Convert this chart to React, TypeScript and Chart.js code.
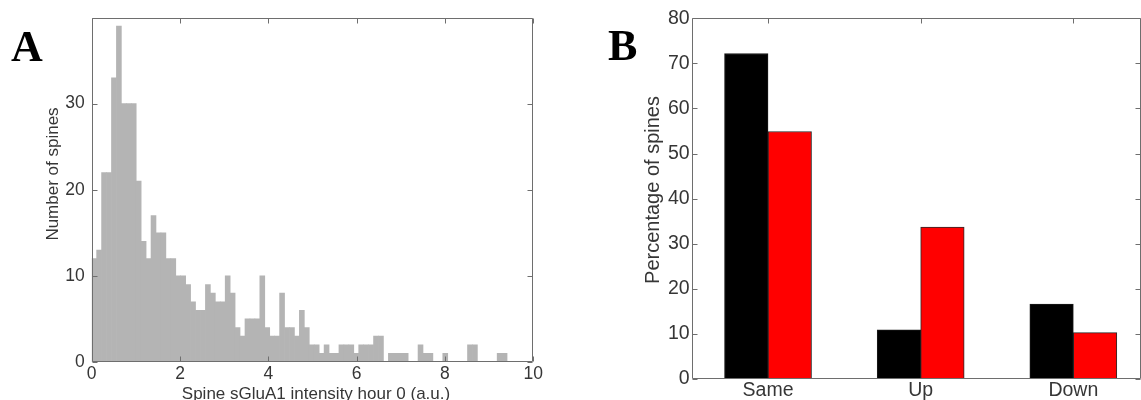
import React, { useEffect, useRef } from "react";
import { Chart, registerables } from "chart.js";

Chart.register(...registerables);

// ---------- Panel A: histogram ----------
const histBinWidth = 0.112;
const histCounts = [
  12, 13, 22, 22, 33, 39, 30, 30, 30, 21,
  14, 12, 17, 15, 15, 12, 12, 10, 10, 9,
  7, 6, 6, 9, 8, 7, 7, 10, 8, 4,
  3, 5, 5, 5, 10, 4, 3, 3, 8, 4,
  4, 3, 6, 4, 2, 2, 1, 2, 1, 1,
  2, 2, 2, 1, 2, 2, 2, 3, 3, 0,
  1, 1, 1, 1, 0, 0, 2, 1, 1, 0,
  0, 1, 0, 0, 0, 0, 2, 2, 0, 0,
  0, 0, 1, 1,
];
const histXTicks = [0, 2, 4, 6, 8, 10];
const histYTicks = [0, 10, 20, 30, 40];
const histYLabelsShown = [0, 10, 20, 30];
const histXTitle = "Spine sGluA1 intensity hour 0 (a.u.)";
const histYTitle = "Number of spines";

// ---------- Panel B: grouped bars ----------
const changeCategories = ["Same", "Up", "Down"];
const categoryPositions = [1, 2, 3];
const controlPct = [72.2, 10.9, 16.6];
const treatedPct = [54.9, 33.7, 10.3];
const pctYTicks = [0, 10, 20, 30, 40, 50, 60, 70, 80];
const pctYTitle = "Percentage of spines";

const SANS = '"Liberation Sans", Helvetica, Arial, sans-serif';
const SERIF = '"Liberation Serif", "Times New Roman", serif';
const TEXT = "#363636";

type FrameOpts = {
  color: string;
  len: number;
  xTicks: number[];
  yTicks: number[];
  xTop: boolean;
  xBottom: boolean;
};

function framePlugin(o: FrameOpts) {
  return {
    id: "frame",
    afterDatasetsDraw(chart: any) {
      const { ctx, chartArea: a, scales } = chart;
      ctx.save();
      ctx.strokeStyle = o.color;
      ctx.lineWidth = 1;
      const L = Math.round(a.left) + 0.5;
      const R = Math.round(a.right) - 0.5;
      const T = Math.round(a.top) + 0.5;
      const B = Math.round(a.bottom) - 0.5;
      ctx.beginPath();
      ctx.rect(L, T, R - L, B - T);
      for (const v of o.xTicks) {
        const px = Math.round(scales.x.getPixelForValue(v)) + 0.5;
        if (o.xBottom) {
          ctx.moveTo(px, B);
          ctx.lineTo(px, B - o.len);
        }
        if (o.xTop) {
          ctx.moveTo(px, T);
          ctx.lineTo(px, T + o.len);
        }
      }
      for (const v of o.yTicks) {
        const py = Math.round(scales.y.getPixelForValue(v)) + 0.5;
        ctx.moveTo(L, py);
        ctx.lineTo(L + o.len, py);
        ctx.moveTo(R, py);
        ctx.lineTo(R - o.len, py);
      }
      ctx.stroke();
      ctx.restore();
    },
  };
}

type TextItem = {
  text: string;
  x: number;
  y: number;
  font: string;
  color: string;
  rotate?: boolean;
  align?: CanvasTextAlign;
  baseline?: CanvasTextBaseline;
};

function textPlugin(items: TextItem[]) {
  return {
    id: "texts",
    afterDraw(chart: any) {
      const { ctx } = chart;
      for (const t of items) {
        ctx.save();
        ctx.font = t.font;
        ctx.fillStyle = t.color;
        ctx.textAlign = t.align ?? "center";
        ctx.textBaseline = t.baseline ?? "middle";
        ctx.translate(t.x, t.y);
        if (t.rotate) ctx.rotate(-Math.PI / 2);
        ctx.fillText(t.text, 0, 0);
        ctx.restore();
      }
    },
  };
}

export default function App() {
  const refA = useRef<HTMLCanvasElement>(null);
  const refB = useRef<HTMLCanvasElement>(null);

  useEffect(() => {
    const histData = histCounts.map((c, i) => ({ x: (i + 0.5) * histBinWidth, y: c }));

    const chartA = new Chart(refA.current!, {
      type: "bar",
      data: {
        datasets: [
          {
            data: histData as any,
            backgroundColor: "#b4b4b4",
            borderWidth: 0,
            barPercentage: 1,
            categoryPercentage: 1,
          },
        ],
      },
      options: {
        responsive: false,
        animation: false,
        events: [],
        layout: { padding: { left: 0, top: 12, right: 26.8, bottom: 0 } },
        plugins: { legend: { display: false }, tooltip: { enabled: false } },
        scales: {
          x: {
            type: "linear",
            min: 0,
            max: 10,
            offset: false,
            grid: { display: false, drawTicks: false },
            border: { display: false },
            afterBuildTicks: (s: any) => {
              s.ticks = histXTicks.map((v) => ({ value: v }));
            },
            afterFit: (s: any) => {
              s.height = 38;
            },
            ticks: {
              padding: 1.5,
              color: TEXT,
              font: { family: SANS, size: 17.5 },
              maxRotation: 0,
              autoSkip: false,
            },
          },
          y: {
            type: "linear",
            min: 0,
            max: 40,
            grid: { display: false, drawTicks: false },
            border: { display: false },
            afterBuildTicks: (s: any) => {
              s.ticks = histYTicks.map((v) => ({ value: v }));
            },
            afterFit: (s: any) => {
              s.width = 91.7;
            },
            ticks: {
              padding: 7,
              color: TEXT,
              font: { family: SANS, size: 17.5 },
              callback: (v: any) => (histYLabelsShown.includes(Number(v)) ? String(v) : ""),
            },
          },
        },
      },
      plugins: [
        framePlugin({ color: "#6e6e6e", len: 5, xTicks: histXTicks, yTicks: histYTicks, xTop: true, xBottom: true }),
        textPlugin([
          { text: "A", x: 11, y: 61, font: `bold 44px ${SERIF}`, color: "#000", align: "left", baseline: "alphabetic" },
          { text: histYTitle, x: 53.5, y: 174, font: `17px ${SANS}`, color: TEXT, rotate: true },
          { text: histXTitle, x: 316, y: 398.5, font: `17px ${SANS}`, color: TEXT, baseline: "alphabetic" },
        ]),
      ] as any,
    });

    const chartB = new Chart(refB.current!, {
      type: "bar",
      data: {
        datasets: [
          {
            data: controlPct.map((v, i) => ({ x: categoryPositions[i], y: v })) as any,
            backgroundColor: "#000000",
            borderColor: "#1a1a1a",
            borderWidth: 1,
            barThickness: 43.5,
          },
          {
            data: treatedPct.map((v, i) => ({ x: categoryPositions[i], y: v })) as any,
            backgroundColor: "#ff0000",
            borderColor: "#2a2a2a",
            borderWidth: 1,
            barThickness: 43.5,
          },
        ],
      },
      options: {
        responsive: false,
        animation: false,
        events: [],
        layout: { padding: { left: 0, top: 18.3, right: 0.5, bottom: 0 } },
        plugins: { legend: { display: false }, tooltip: { enabled: false } },
        scales: {
          x: {
            type: "linear",
            min: 0.5,
            max: 3.44,
            offset: false,
            grid: { display: false, drawTicks: false },
            border: { display: false },
            afterBuildTicks: (s: any) => {
              s.ticks = categoryPositions.map((v) => ({ value: v }));
            },
            afterFit: (s: any) => {
              s.height = 21;
            },
            ticks: {
              padding: 0,
              color: TEXT,
              font: { family: SANS, size: 19.5 },
              maxRotation: 0,
              autoSkip: false,
              callback: (v: any) => changeCategories[categoryPositions.indexOf(Number(v))] ?? "",
            },
          },
          y: {
            type: "linear",
            min: 0,
            max: 80,
            grid: { display: false, drawTicks: false },
            border: { display: false },
            afterBuildTicks: (s: any) => {
              s.ticks = pctYTicks.map((v) => ({ value: v }));
            },
            afterFit: (s: any) => {
              s.width = 131.7;
            },
            ticks: {
              padding: 2,
              color: TEXT,
              font: { family: SANS, size: 19.5 },
            },
          },
        },
      },
      plugins: [
        framePlugin({ color: "#6e6e6e", len: 5, xTicks: categoryPositions, yTicks: pctYTicks, xTop: true, xBottom: false }),
        textPlugin([
          { text: "B", x: 48, y: 60, font: `bold 44px ${SERIF}`, color: "#000", align: "left", baseline: "alphabetic" },
          { text: pctYTitle, x: 93, y: 190, font: `20px ${SANS}`, color: TEXT, rotate: true },
        ]),
      ] as any,
    });

    return () => {
      chartA.destroy();
      chartB.destroy();
    };
  }, []);

  return (
    <div
      style={{
        position: "absolute",
        left: 0,
        top: 0,
        width: 1141,
        height: 400,
        overflow: "hidden",
        background: "#ffffff",
      }}
    >
      <canvas ref={refA} width={560} height={400} style={{ position: "absolute", left: 0, top: 0 }} />
      <canvas ref={refB} width={581} height={400} style={{ position: "absolute", left: 560, top: 0 }} />
    </div>
  );
}
